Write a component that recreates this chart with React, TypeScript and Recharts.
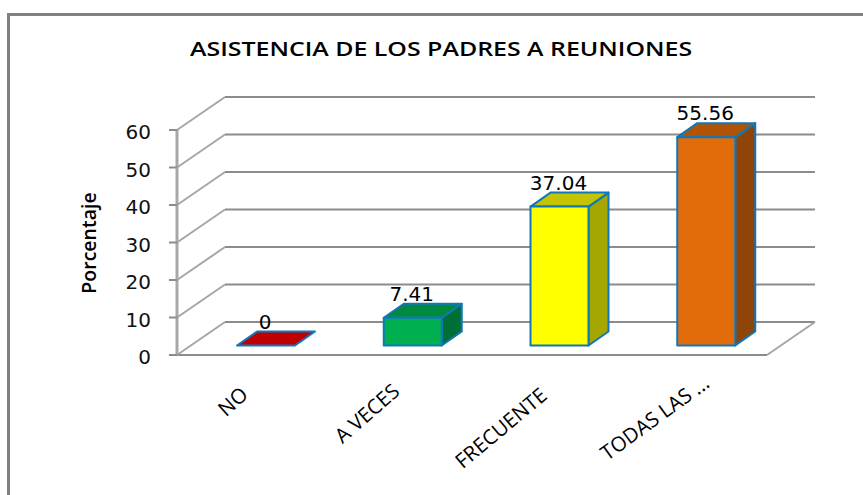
import React from 'react';
import { BarChart, Bar, XAxis, YAxis, CartesianGrid, LabelList, Text } from 'recharts';

const categories = ['NO', 'A VECES', 'FRECUENTE', 'TODAS LAS ...'];
const values = [0, 7.41, 37.04, 55.56];
const yTicks = [0, 10, 20, 30, 40, 50, 60];
const frontColors = ['#C00000', '#00B050', '#FFFF00', '#E36C0A'];
const topColors = ['#C00000', '#008A40', '#C4C400', '#B05305'];
const sideColors = ['#900000', '#006F35', '#A6A600', '#8F4507'];

const data = categories.map((name, i) => ({ name, value: values[i] }));

// fake 3D depth of the chart box and of the bars
const WALL_DX = 48;
const WALL_DY = 33;
const BAR_DX = 20;
const BAR_DY = 14;
const SHIFT_X = 15;
const SHIFT_Y = 9.5;
const EDGE = '#1177BB';

// the labels are not anchored the same way in the original
const LABEL_DX = [-7, -2, -1, 15];
const LABEL_DY = [28, 25, 29, 17];
const LABEL_ANGLE = [-42, -41, -40, -36];

function GridLine(props: any) {
  const { x1, x2, y1, y, height } = props;
  const isFloor = Math.abs(y1 - (y + height)) < 1;
  return (
    <g stroke="#8c8c8c" strokeWidth={2} fill="none">
      <line x1={x1} y1={y1} x2={x1 + WALL_DX} y2={y1 - WALL_DY} stroke="#a6a6a6" />
      <line x1={x1 + WALL_DX} y1={y1 - WALL_DY} x2={x2 + WALL_DX} y2={y1 - WALL_DY} />
      {isFloor && <line x1={x2} y1={y1} x2={x2 + WALL_DX} y2={y1 - WALL_DY} stroke="#a6a6a6" />}
    </g>
  );
}

function Bar3D(props: any) {
  const { x, y, width, height, index } = props;
  const left = x + SHIFT_X;
  const right = left + width;
  const top = y - SHIFT_Y;
  const bottom = top + height;
  return (
    <g stroke={EDGE} strokeWidth={2} strokeLinejoin="round">
      {height > 0 && (
        <polygon
          points={`${right},${top} ${right + BAR_DX},${top - BAR_DY} ${right + BAR_DX},${bottom - BAR_DY} ${right},${bottom}`}
          fill={sideColors[index]}
        />
      )}
      <polygon
        points={`${left},${top} ${left + BAR_DX},${top - BAR_DY} ${right + BAR_DX},${top - BAR_DY} ${right},${top}`}
        fill={topColors[index]}
      />
      {height > 0 && <rect x={left} y={top} width={width} height={height} fill={frontColors[index]} />}
    </g>
  );
}

function ValueLabel(props: any) {
  const { x, y, width, value } = props;
  return (
    <text
      x={x + width / 2 + SHIFT_X - 1}
      y={y - SHIFT_Y - 17}
      textAnchor="middle"
      fontFamily="DejaVu Sans"
      fontSize={20}
      fill="#000"
    >
      {value}
    </text>
  );
}

function CategoryTick(props: any) {
  const { x, y, payload, index } = props;
  return (
    <Text
      x={x + LABEL_DX[index]}
      y={y + LABEL_DY[index]}
      angle={LABEL_ANGLE[index]}
      textAnchor="end"
      verticalAnchor="middle"
      fontFamily="Open Sans"
      fontSize={20.5}
      fill="#000"
    >
      {payload.value}
    </Text>
  );
}

export default function App() {
  return (
    <div style={{ position: 'absolute', left: 0, top: 0, width: 863, height: 495, background: '#fff', overflow: 'hidden' }}>
      <div style={{ position: 'absolute', left: 7, top: 13, width: 900, height: 600, border: '3px solid #808080' }} />
      <div
        style={{
          position: 'absolute',
          left: 190,
          top: 35,
          whiteSpace: 'nowrap',
          fontFamily: 'Open Sans',
          fontWeight: 600,
          fontSize: 20,
          transform: 'scaleX(1.245)',
          transformOrigin: 'left center',
          color: '#000',
        }}
      >
        ASISTENCIA DE LOS PADRES A REUNIONES
      </div>
      <BarChart
        width={863}
        height={495}
        data={data}
        margin={{ top: 130, right: 96, bottom: 0, left: 77 }}
        barSize={58}
        style={{ position: 'absolute', left: 0, top: 0 }}
      >
        <CartesianGrid horizontal={GridLine} vertical={false} />
        <XAxis
          dataKey="name"
          interval={0}
          padding={{ left: 1, right: 2 }}
          tickLine={false}
          axisLine={{ stroke: '#8c8c8c', strokeWidth: 2 }}
          tick={CategoryTick}
          height={140}
        />
        <YAxis
          domain={[0, 60]}
          ticks={yTicks}
          interval={0}
          width={100}
          tickSize={8}
          tickMargin={18}
          axisLine={{ stroke: '#a8a8a8', strokeWidth: 3 }}
          tickLine={{ stroke: '#8c8c8c', strokeWidth: 2 }}
          tick={{ fontFamily: 'DejaVu Sans', fontSize: 20, fill: '#111', dy: 2 }}
        />
        <Bar dataKey="value" shape={Bar3D} isAnimationActive={false}>
          <LabelList dataKey="value" content={ValueLabel} />
        </Bar>
      </BarChart>
      <div
        style={{
          position: 'absolute',
          left: 88,
          top: 243,
          transform: 'translate(-50%, -50%) rotate(-90deg)',
          fontFamily: 'Open Sans',
          fontWeight: 600,
          fontSize: 19.5,
          whiteSpace: 'nowrap',
          color: '#000',
        }}
      >
        Porcentaje
      </div>
    </div>
  );
}
